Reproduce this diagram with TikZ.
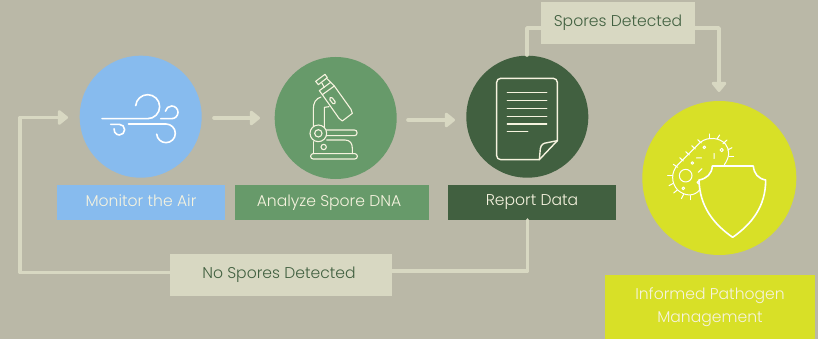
\documentclass[tikz,border=0pt]{standalone}
\usepackage{fontspec}
\setmainfont{Poppins}[UprightFont=* Light]
\usetikzlibrary{arrows.meta}
\definecolor{bgc}{HTML}{BAB8A7}
\definecolor{linkc}{HTML}{D8D8C2}
\definecolor{bluec}{HTML}{87BBEE}
\definecolor{greenc}{HTML}{679A6A}
\definecolor{darkc}{HTML}{416040}
\definecolor{limec}{HTML}{D8E027}
\definecolor{iconc}{HTML}{F6F3DF}
\newcommand{\up}[1]{\raisebox{3pt}{#1}}
\newcommand{\upleft}[2]{\raisebox{3pt}{\makebox[0pt]{\hspace{-#1}#2}}}
\tikzset{
  disc/.style={circle,inner sep=0pt,outer sep=0pt,minimum size=122pt},
  labelbox/.style={inner sep=0pt,outer sep=0pt,align=center,text=iconc,font=\fontsize{15.6}{23.5}\selectfont},
  linkbox/.style={labelbox,fill=linkc,text=darkc},
  link/.style={draw=linkc,line width=3.6pt,line join=round,line cap=round},
  linkarrow/.style={link,-{Triangle[length=11pt,width=17pt,round]}},
  icon/.style={draw=iconc,line width=1.1pt,line cap=round,line join=round},
  iconw/.style={draw=white,line width=1.6pt,line cap=round,line join=round},
  bact/.style={iconw,line width=1pt},
}
\begin{document}
\begin{tikzpicture}[x=1pt,y=-1pt]
\path[use as bounding box,fill=bgc] (0,0) rectangle (818,339);
% discs
\node[disc,fill=bluec] (air) at (140.7,116.7) {};
\node[disc,fill=greenc] (dna) at (335.7,118) {};
\node[disc,fill=darkc] (rep) at (527.3,116.7) {};
\node[disc,fill=limec,minimum size=154pt] (mgmt) at (719.3,178) {};
% labels
\node[labelbox,fill=bluec,minimum width=168pt,minimum height=35pt] (airL) at (141,202.5) {\up{Monitor the Air}};
\node[labelbox,fill=greenc,minimum width=194pt,minimum height=35pt] (dnaL) at (332,202.5) {\upleft{6pt}{Analyze Spore DNA}};
\node[labelbox,fill=darkc,minimum width=168pt,minimum height=35pt] (repL) at (532,202.5) {\up{Report Data}};
\node[labelbox,fill=limec,minimum width=210pt,minimum height=64pt] (mgmtL) at (710,307) {Informed Pathogen\\Management};
\node[linkbox,minimum width=154pt,minimum height=42pt] (yes) at (618,23) {\up{Spores Detected}};
\node[linkbox,minimum width=222pt,minimum height=42pt] (no) at (281,275) {\upleft{4pt}{No Spores Detected}};
% connectors
\coordinate (a1) at (214,118); \coordinate (a2) at (260,118);
\coordinate (b1) at (408,120); \coordinate (b2) at (455,120);
\draw[linkarrow] (a1) -- (a2);
\draw[linkarrow] (b1) -- (b2);
\coordinate (loopin) at (68,117.5);
\coordinate (toparrow) at (719,92);
\draw[linkarrow] (no.west |- 0,272.5) -- (20,272.5) -- (20,117.5) -- (loopin);
\draw[link] (no.east |- 0,271) -- (527.5,271) -- (527.5,220);
\draw[link] (yes.west |- 0,28) -- (527,28) -- (527,55);
\draw[linkarrow] (yes.east |- 0,28) -- (719,28) -- (toparrow);
% wind icon
\begin{scope}[shift={(70,50)},scale=1/3]
\draw[iconw] (96,206) -- (233,206) arc (90:-175:36);
\draw[iconw] (272,206) -- (305,206) arc (90:-170:19);
\draw[iconw] (175,222) -- (288,222) arc (-90:175:28);
\draw[iconw] (122,223) -- (148,223) arc (-90:190:16);
\end{scope}
% microscope icon
\begin{scope}[shift={(265,50)},scale=1/3]
\draw[icon] (152,94) -- (180,73) -- (187,83) -- (160,104) -- cycle;
\draw[icon] (170,98) -- (178,112) (186,86) -- (197,97);
\draw[icon] (163,122) -- (197,97) -- (208,108) -- (172,134) -- cycle;
\draw[icon] (172,134) -- (222,205) -- (232,213) -- (262,190) -- (258,178) -- (208,108);
\draw[icon,rounded corners=1.5pt] (192,146) -- (199,140) -- (213,158) -- (206,164) -- cycle;
\draw[icon] (168,141) .. controls (152,146) and (145,158) .. (145,178) -- (145,228);
\draw[icon] (178,232) -- (178,172) -- (192,170);
\draw[icon] (160,250) circle (25);
\draw[icon] (160,250) circle (11);
\draw[icon,rounded corners=2.5pt] (184,240) -- (276,240) -- (276,257) -- (184,257);
\draw[icon] (145,275) -- (145,311);
\draw[icon] (185,270) -- (240,270) .. controls (255,270) and (262,280) .. (262,295) -- (262,311);
\draw[icon] (176,291) circle (8);
\draw[icon,rounded corners=2.5pt] (137,311) rectangle (277,327);
\end{scope}
% document icon
\begin{scope}[shift={(460,50)},scale=1/3]
\draw[icon,line width=1.4pt] (238,329) -- (122,329) arc (90:180:12) -- (110,97) arc (180:270:12) -- (280,85) arc (-90:0:12) -- (292,272) -- cycle;
\draw[icon,line width=1.4pt] (238,329) -- (241,296) .. controls (243,284) and (250,279) .. (262,278) -- (292,272);
\foreach \yy in {128,152,176,199,222} \draw[icon,line width=1.4pt] (142,\yy) -- (260,\yy);
\draw[icon,line width=1.4pt] (142,245) -- (203,245);
\end{scope}
% bacterium and shield icon
\begin{scope}[shift={(635,100)},scale=1/3]
\draw[bact] (268,194) .. controls (284,172) and (285,150) .. (272,133) .. controls (256,113) and (218,108) .. (195,128) -- (128,195) .. controls (108,215) and (108,250) .. (128,270) .. controls (148,288) and (178,292) .. (195,268);
\draw[bact] (152,227) circle (19);
\foreach \xx/\yy/\rr in {208/142/4,260/150/5,172/189/4,145/265/4,190/247/4}
  \draw[bact] (\xx,\yy) circle (\rr);
\draw[bact] (184,174) -- (200,174) (237,160) -- (237,176) (190,217) -- (201,206);
\foreach \xa/\ya/\xb/\yb in {224/115/224/102, 246/117/254/105, 264/131/276/120, 278/150/291/143, 283/171/296/171, 199/129/188/119, 181/147/170/137, 163/165/152/155, 145/183/134/173, 128/202/115/193, 112/228/98/228, 115/250/102/257, 127/270/116/279, 146/283/139/296, 167/287/167/299}
  \draw[bact] (\xa,\ya) -- (\xb,\yb);
\draw[iconw,fill=limec] (232,198) -- (355,198) .. controls (357,222) and (370,236) .. (392,240) .. controls (392,320) and (350,372) .. (293,412) .. controls (236,372) and (194,320) .. (192,240) .. controls (215,236) and (230,222) .. (232,198) -- cycle;
\end{scope}
\end{tikzpicture}
\end{document}
